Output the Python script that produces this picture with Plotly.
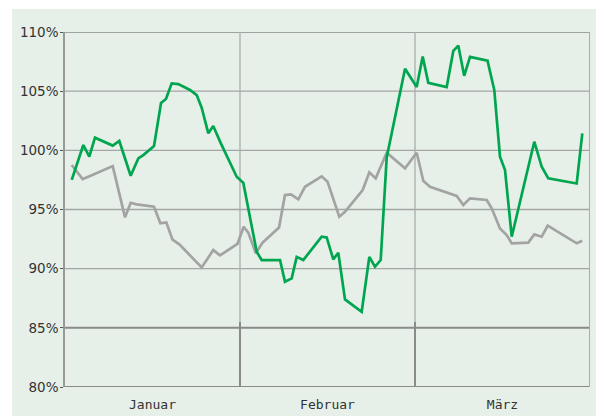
import plotly.graph_objects as go

# x position in days (each month = 30 units: Jan 0-30, Feb 30-60, Mar 60-90)
green_x = [1.15, 3.14, 4.17, 5.14, 8.18, 9.31, 11.26, 12.57, 13.42, 15.26, 16.46, 17.31,
           18.29, 19.42, 21.43, 22.58, 23.43, 24.57, 25.42, 26.66, 29.43, 30.57, 32.86,
           33.72, 36.86, 37.71, 38.86, 39.72, 40.85, 44.0, 44.86, 45.99, 46.85, 48.0,
           50.86, 52.17, 53.14, 54.12, 55.15, 58.29, 60.29, 61.32, 62.28, 65.43, 66.57,
           67.42, 68.43, 69.43, 72.43, 73.59, 74.57, 75.43, 76.58, 80.45, 81.72, 82.85,
           87.72, 88.68]
green_y = [97.5, 100.45, 99.46, 101.07, 100.4, 100.79, 97.85, 99.32, 99.6, 100.36, 104.0,
           104.34, 105.66, 105.6, 105.1, 104.67, 103.6, 101.44, 102.05, 100.65, 97.77,
           97.25, 91.43, 90.73, 90.73, 88.89, 89.18, 91.0, 90.73, 92.7, 92.64, 90.79,
           91.35, 87.4, 86.36, 91.0, 90.16, 90.73, 99.4, 106.9, 105.35, 107.92, 105.7,
           105.35, 108.4, 108.85, 106.3, 107.9, 107.58, 105.1, 99.46, 98.33, 92.7,
           100.73, 98.61, 97.63, 97.2, 101.44]

gray_x = [1.15, 2.0, 3.03, 4.0, 8.18, 10.29, 11.26, 12.29, 15.26, 16.35, 17.38, 18.43,
          19.65, 23.43, 25.42, 26.57, 29.57, 30.63, 31.42, 32.71, 33.86, 36.69, 37.71,
          38.74, 40.0, 41.14, 44.0, 45.0, 47.02, 48.0, 51.03, 52.17, 53.26, 55.15, 58.29,
          60.29, 61.42, 62.57, 65.14, 67.15, 68.28, 69.43, 72.29, 73.15, 74.57, 75.72,
          76.58, 79.42, 80.45, 81.72, 82.75, 87.72, 88.68]
gray_y = [98.76, 98.2, 97.57, 97.77, 98.67, 94.34, 95.57, 95.43, 95.23, 93.83, 93.9, 92.45,
          92.03, 90.1, 91.57, 91.12, 92.1, 93.54, 93.05, 91.3, 92.2, 93.47, 96.22, 96.28,
          95.86, 96.92, 97.8, 97.35, 94.39, 94.81, 96.64, 98.14, 97.63, 99.8, 98.48, 99.8,
          97.43, 96.92, 96.5, 96.14, 95.38, 95.94, 95.8, 95.1, 93.4, 92.84, 92.14, 92.2,
          92.9, 92.7, 93.63, 92.14, 92.36]

months = ["Januar", "Februar", "März"]
month_centers = [15, 45, 75]
month_bounds = [30, 60]
y_ticks = [80, 85, 90, 95, 100, 105, 110]
y_labels = [f"{v}%" for v in y_ticks]

BG = "#e6f0e9"
GRID = "#a5a5a5"
DARK = "#8a8a8a"

fig = go.Figure()
fig.add_trace(go.Scatter(x=gray_x, y=gray_y, mode="lines",
                         line=dict(color="#a3a3a3", width=2.7), hoverinfo="skip"))
fig.add_trace(go.Scatter(x=green_x, y=green_y, mode="lines",
                         line=dict(color="#00a64f", width=2.7), hoverinfo="skip"))

# page body has an 8px margin, so the figure is 8px smaller each way
W, H = 596, 408
L, R, T, B = 57, 14, 24, 29
pw, ph = W - L - R, H - T - B

shapes = []
shapes.append(dict(type="rect", xref="paper", yref="paper",
                   x0=(4 - L) / pw, x1=(W - L + 2) / pw,
                   y0=-(B + 2) / ph, y1=(H - 1 - B) / ph,
                   fillcolor=BG, line=dict(width=0), layer="below"))
for v in y_ticks:
    col = DARK if v in (80, 85, 110) else GRID
    w = 2 if v in (80, 85) else 1.3
    shapes.append(dict(type="line", xref="x", yref="y", x0=0, x1=90.6, y0=v, y1=v,
                       line=dict(color=col, width=w), layer="below"))
for b in month_bounds:
    shapes.append(dict(type="line", xref="x", yref="y", x0=b, x1=b, y0=85.5, y1=110,
                       line=dict(color="#adadad", width=1.3), layer="below"))
    shapes.append(dict(type="line", xref="x", yref="y", x0=b, x1=b, y0=80, y1=85.5,
                       line=dict(color=DARK, width=2), layer="below"))
shapes.append(dict(type="line", xref="x", yref="y", x0=90, x1=90, y0=80, y1=110,
                   line=dict(color="#ababab", width=2), layer="below"))

fig.update_layout(
    width=W, height=H,
    margin=dict(l=L, r=R, t=T, b=B, autoexpand=False),
    paper_bgcolor="white",
    plot_bgcolor="rgba(0,0,0,0)",
    showlegend=False,
    shapes=shapes,
    xaxis=dict(range=[0, 90], showgrid=False, zeroline=False, showline=False,
               tickmode="array", tickvals=month_centers, ticktext=months,
               ticks="", ticklabelstandoff=8,
               tickfont=dict(family="DejaVu Sans Mono", size=13, color="#333333"),
               fixedrange=True),
    yaxis=dict(range=[80, 110], showgrid=False, zeroline=False,
               showline=True, linecolor="#999999", linewidth=1.5,
               tickmode="array", tickvals=y_ticks, ticktext=y_labels,
               ticks="outside", ticklen=3, tickcolor="#555555",
               ticklabelstandoff=-1,
               tickfont=dict(family="DejaVu Sans", size=13.5, color="#333333"),
               fixedrange=True),
)

fig.write_html("out.html")
